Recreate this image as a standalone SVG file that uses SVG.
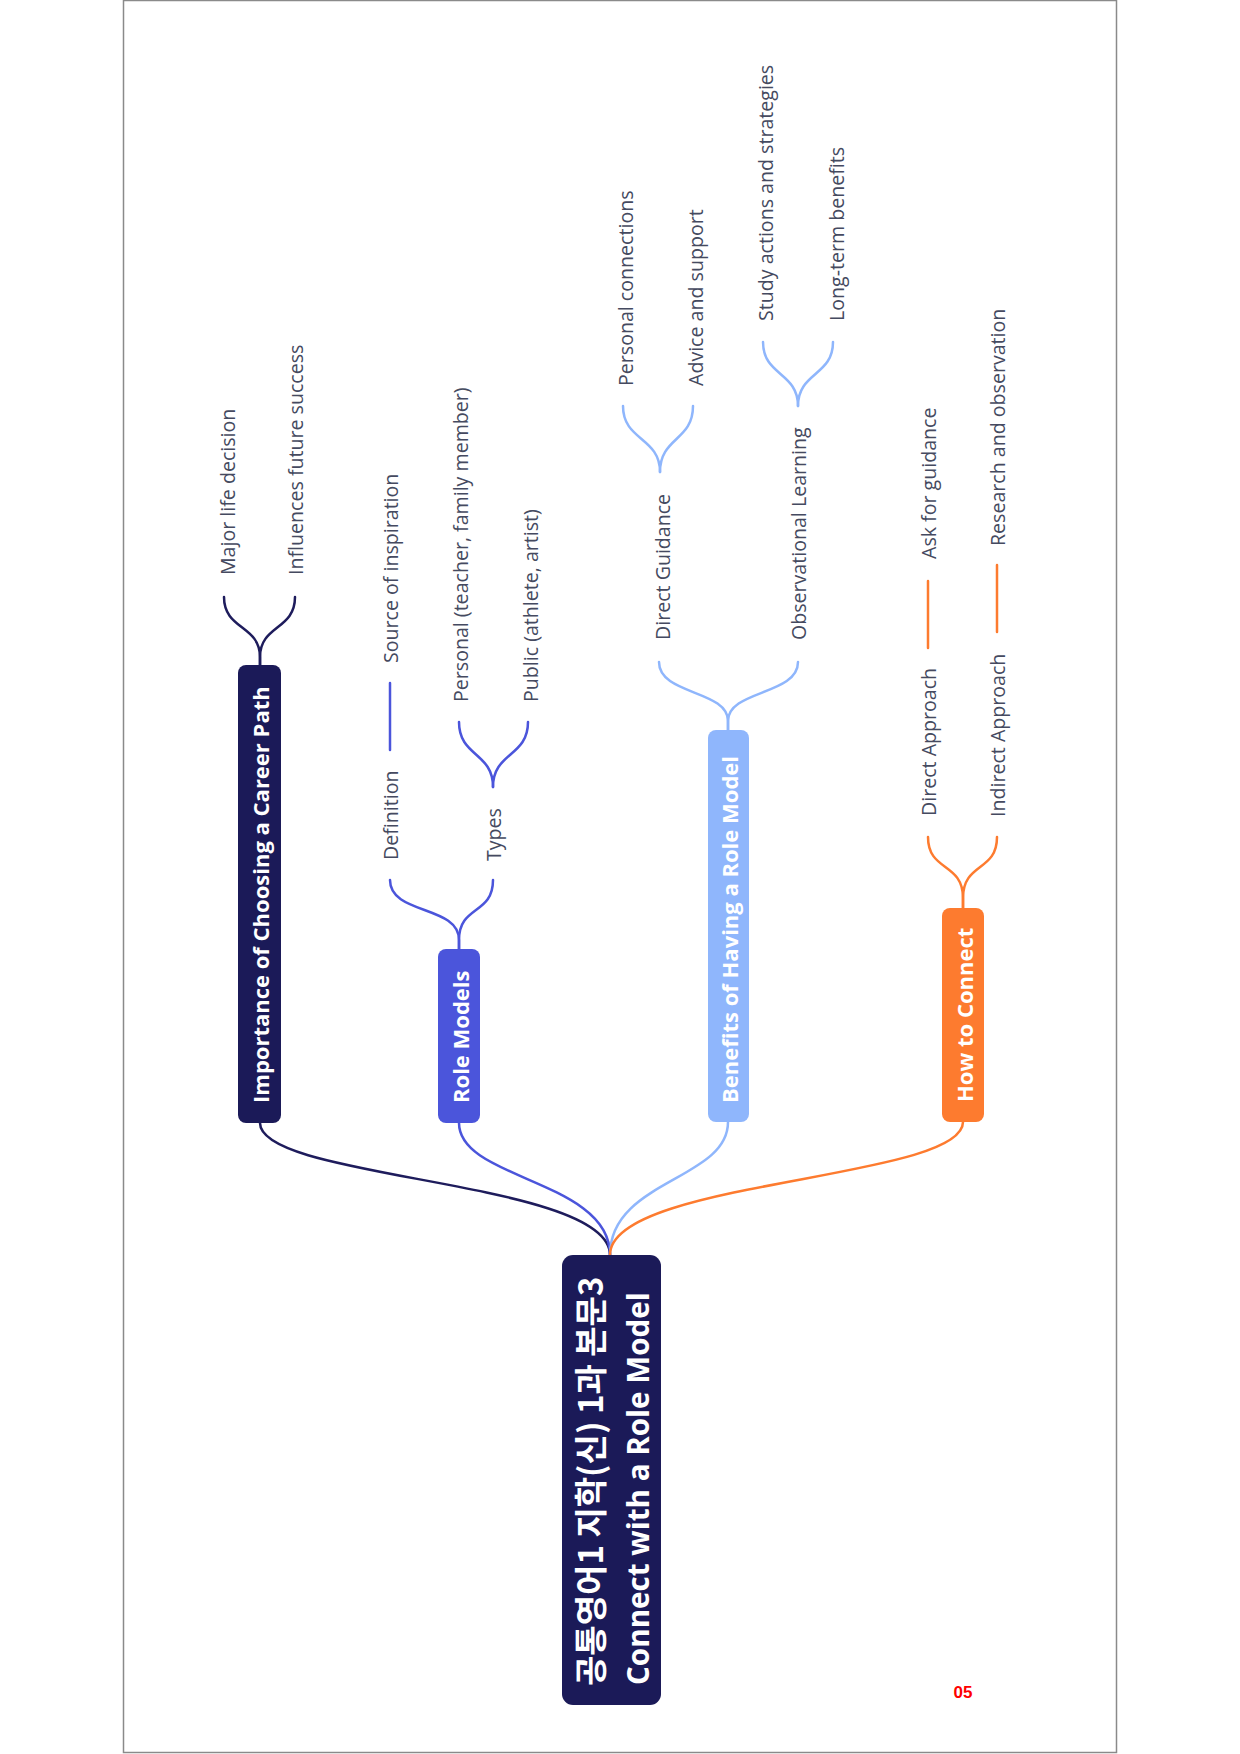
<svg xmlns="http://www.w3.org/2000/svg" width="1240" height="1754" viewBox="0 0 1240 1754">
<style>
.leaf{font-family:"Open Sans","Liberation Sans",sans-serif;font-size:19.6px;fill:#454a60;dominant-baseline:central}
.title{font-family:"Open Sans","Liberation Sans",sans-serif;font-size:22px;font-weight:700;fill:#ffffff;dominant-baseline:central}
.root{font-family:"Open Sans","Liberation Sans","Noto Sans CJK KR",sans-serif;font-size:29.6px;font-weight:700;fill:#ffffff;dominant-baseline:central}
.kr{font-family:"Noto Sans CJK KR",sans-serif;font-size:33px;font-weight:700;fill:#ffffff;dominant-baseline:central}
.c{fill:none;stroke-width:2.5;stroke-linecap:round}
.navy{stroke:#1e1c5c}
.blue{stroke:#4b55db}
.light{stroke:#8fb6fc}
.orange{stroke:#fd7b2f}
</style>
<rect x="123.5" y="0.5" width="993" height="1752" fill="#ffffff" stroke="#8a8a8a" stroke-width="1.5"/>
<g id="connectors">
  <path class="c navy" d="M260,1123 C260,1180 610,1180 610,1255"/>
  <path class="c blue" d="M459,1123 C459,1180 610,1180 610,1255"/>
  <path class="c light" d="M728,1122 C728,1180 610,1180 610,1255"/>
  <path class="c orange" d="M963,1122 C963,1180 610,1180 610,1255"/>
  <path class="c navy" d="M260,665 L260,657 C260,625 224,630 224,597"/>
  <path class="c navy" d="M260,665 L260,657 C260,625 295,630 295,597"/>
  <path class="c blue" d="M459,949 L459,940 C459,905 390,915 390,880"/>
  <path class="c blue" d="M459,949 L459,940 C459,905 493,915 493,880"/>
  <path class="c blue" d="M390,750 L390,683"/>
  <path class="c blue" d="M493,787 C493,752 459,757 459,722"/>
  <path class="c blue" d="M493,787 C493,752 528,757 528,722"/>
  <path class="c light" d="M728,730 L728,721 C728,690 659,695 659,662"/>
  <path class="c light" d="M728,730 L728,721 C728,690 798,695 798,662"/>
  <path class="c light" d="M660,472 C660,437 623,441 623,406"/>
  <path class="c light" d="M660,472 C660,437 693,441 693,406"/>
  <path class="c light" d="M798,406 C798,372 763,376 763,342"/>
  <path class="c light" d="M798,406 C798,372 833,376 833,342"/>
  <path class="c orange" d="M963,908 L963,898 C963,862 928,872 928,837"/>
  <path class="c orange" d="M963,908 L963,898 C963,862 997,872 997,837"/>
  <path class="c orange" d="M928,648 L928,581"/>
  <path class="c orange" d="M997,632 L997,565"/>
</g>
<g id="root">
  <rect x="562" y="1255" width="99" height="450" rx="11" fill="#1b1a58"/>
  <text class="kr" transform="translate(589,1686) rotate(-90)">공통영어1 지학(신) 1과 본문3</text>
  <text class="root" transform="translate(637,1685) rotate(-90)">Connect with a Role Model</text>
</g>
<g id="n-importance">
  <rect x="238" y="665" width="43" height="458" rx="8" fill="#1b1a58"/>
  <text class="title" transform="translate(260,1103) rotate(-90)">Importance of Choosing a Career Path</text>
</g>
<g id="n-major"><text class="leaf" transform="translate(227,575) rotate(-90)">Major life decision</text></g>
<g id="n-influences"><text class="leaf" transform="translate(295,575) rotate(-90)">Influences future success</text></g>
<g id="n-rolemodels">
  <rect x="438" y="949" width="42" height="174" rx="8" fill="#4b55db"/>
  <text class="title" transform="translate(460,1103) rotate(-90)">Role Models</text>
</g>
<g id="n-definition"><text class="leaf" transform="translate(390,860) rotate(-90)">Definition</text></g>
<g id="n-source"><text class="leaf" transform="translate(390,663) rotate(-90)">Source of inspiration</text></g>
<g id="n-types"><text class="leaf" transform="translate(493,861) rotate(-90)">Types</text></g>
<g id="n-personal"><text class="leaf" transform="translate(460,702) rotate(-90)">Personal (teacher, family member)</text></g>
<g id="n-public"><text class="leaf" transform="translate(530,702) rotate(-90)">Public (athlete, artist)</text></g>
<g id="n-benefits">
  <rect x="708" y="730" width="41" height="392" rx="8" fill="#8fb6fc"/>
  <text class="title" transform="translate(729,1103) rotate(-90)">Benefits of Having a Role Model</text>
</g>
<g id="n-direct-guidance"><text class="leaf" transform="translate(662,640) rotate(-90)">Direct Guidance</text></g>
<g id="n-personal-conn"><text class="leaf" transform="translate(625,386) rotate(-90)">Personal connections</text></g>
<g id="n-advice"><text class="leaf" transform="translate(695,386) rotate(-90)">Advice and support</text></g>
<g id="n-observational"><text class="leaf" transform="translate(798,640) rotate(-90)">Observational Learning</text></g>
<g id="n-study"><text class="leaf" transform="translate(765,321) rotate(-90)">Study actions and strategies</text></g>
<g id="n-longterm"><text class="leaf" transform="translate(836,321) rotate(-90)">Long-term benefits</text></g>
<g id="n-howto">
  <rect x="942" y="908" width="42" height="214" rx="8" fill="#fd7b2f"/>
  <text class="title" transform="translate(964,1102) rotate(-90)">How to Connect</text>
</g>
<g id="n-direct-approach"><text class="leaf" transform="translate(928,816) rotate(-90)">Direct Approach</text></g>
<g id="n-ask"><text class="leaf" transform="translate(928,559) rotate(-90)">Ask for guidance</text></g>
<g id="n-indirect"><text class="leaf" transform="translate(997,817) rotate(-90)">Indirect Approach</text></g>
<g id="n-research"><text class="leaf" transform="translate(997,546) rotate(-90)">Research and observation</text></g>
<text x="963" y="1698" text-anchor="middle" font-family="Liberation Sans, sans-serif" font-size="17" font-weight="700" fill="#ff0000">05</text>
</svg>
